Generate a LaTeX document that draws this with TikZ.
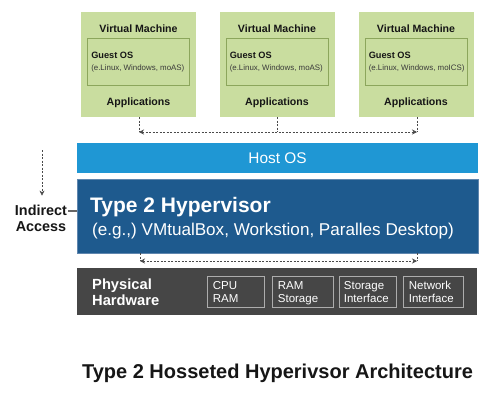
\documentclass[tikz,border=0pt]{standalone}
\usepackage{fontspec}
\setmainfont{Liberation Sans}
\usetikzlibrary{arrows.meta}
\definecolor{vmgreen}{HTML}{C9DD9F}
\definecolor{guestborder}{HTML}{8CA65C}
\definecolor{hostblue}{HTML}{1F97D4}
\definecolor{hypblue}{HTML}{1E5A8E}
\definecolor{hypedge}{HTML}{5F86AE}
\definecolor{hwgray}{HTML}{464646}
\definecolor{hwedge}{HTML}{ADADAD}
\definecolor{dashgray}{HTML}{4A4A4A}
\definecolor{inktext}{HTML}{161616}
\newcommand{\tlines}[2]{\begin{tabular}[t]{@{}#1@{}}#2\end{tabular}}
\begin{document}
\begin{tikzpicture}[x=1pt,y=-1pt,
  vmbox/.style={fill=vmgreen, draw=none, minimum width=115pt, minimum height=105pt, inner sep=0pt},
  guestbox/.style={draw=guestborder, line width=0.9pt, minimum width=102pt, minimum height=47pt, inner sep=0pt},
  vmtitle/.style={inner sep=0pt, text=inktext, font=\fontsize{10.6}{12}\selectfont\bfseries},
  guesttitle/.style={inner sep=0pt, text=inktext, font=\fontsize{9.2}{11}\selectfont\bfseries},
  guestsub/.style={inner sep=0pt, text=inktext!85, font=\fontsize{7.9}{9}\selectfont},
  dashline/.style={draw=dashgray, line width=0.6pt, dash pattern=on 2pt off 1.5pt},
  tip/.style={},
  dasharrow/.style={dashline, {Stealth[length=5pt,width=5pt]}-{Stealth[length=5pt,width=5pt]}},
  hostbox/.style={fill=hostblue, draw=none, minimum width=401pt, minimum height=30pt, inner sep=0pt, text=white, font=\fontsize{15.4}{17}\selectfont},
  hypbox/.style={fill=hypblue, draw=hypedge, line width=0.7pt, minimum width=401pt, minimum height=74pt, inner sep=0pt},
  hyptitle/.style={inner sep=0pt, text=white, font=\fontsize{21}{24}\selectfont\bfseries},
  hypsub/.style={inner sep=0pt, text=white, font=\fontsize{17.1}{20}\selectfont},
  hwbg/.style={fill=hwgray, draw=none, minimum width=400pt, minimum height=47pt, inner sep=0pt},
  hwtitle/.style={inner sep=0pt, text=white, font=\fontsize{14.7}{16}\selectfont\bfseries},
  hwbox/.style={draw=hwedge, line width=0.6pt, minimum height=31pt, inner sep=0pt},
  hwtxt/.style={inner sep=0pt, text=white, font=\fontsize{11.5}{13}\selectfont},
  indtxt/.style={inner sep=0pt, text=inktext, font=\fontsize{14.4}{16}\selectfont\bfseries},
  titletxt/.style={inner sep=0pt, text=inktext, font=\fontsize{20}{24}\selectfont\bfseries}
]
\useasboundingbox (0,0) rectangle (487,400);

% Virtual machines
\foreach \i/\x/\os in {1/138.5/moAS, 2/277/moAS, 3/416/moICS}{
  \node[vmbox] (vm\i) at (\x,64.5) {};
  \node[guestbox] (guest\i) at (\x,61.5) {};
  \node[vmtitle, anchor=base] (vmt\i) at (\x,32) {Virtual Machine};
  \node[guesttitle, anchor=base west] (gt\i) at ([xshift=4pt]guest\i.west |- 0,58) {Guest OS};
  \node[guestsub, anchor=base west] (gs\i) at ([xshift=4pt]guest\i.west |- 0,70) {(e.Linux, Windows, \os)};
  \node[vmtitle, anchor=base] (app\i) at (\x,105) {Applications};
}

% top dashed connector
\coordinate (t1) at (139,132);
\coordinate (t2) at (277,132);
\coordinate (t3) at (417,132);
\draw[dashline] (vm1.south -| t1) -- (t1);
\draw[dashline] (vm2.south -| t2) -- (t2);
\draw[dashline] (vm3.south -| t3) -- (t3);
\draw[dasharrow] (t1) -- (t3);

% Host OS
\node[hostbox] (host) at (277.5,158) {Host OS};

% Hypervisor
\node[hypbox] (hyp) at (277.5,216) {};
\node[hyptitle, anchor=base west] (hypt) at (90,212.5) {Type 2 Hypervisor};
\node[hypsub, anchor=base west] (hyps) at (92,235) {(e.g.,) VMtualBox, Workstion, Paralles Desktop)};

% Indirect access
\node[indtxt, anchor=base] (ind) at (41,215) {\tlines{c}{Indirect\\Access}};
\coordinate (indtop) at (42,150);
\draw[dashline, -{Stealth[length=5pt,width=5pt]}] (indtop) -- ([yshift=8pt]ind.north -| indtop);
\coordinate (lk) at (0,211);
\draw[draw=gray!80!black, line width=1.1pt] ([xshift=1pt]ind.east |- lk) -- (hyp.west |- lk);

% lower dashed connector
\coordinate (b1) at (140,261);
\coordinate (b2) at (417,261);
\draw[dashline] (hyp.south -| b1) -- (b1);
\draw[dashline] (hyp.south -| b2) -- (b2);
\draw[dasharrow] (b1) -- (b2);

% Physical hardware
\node[hwbg] (hw) at (277,291.5) {};
\node[hwtitle, anchor=base west] (hwt) at (92,289) {\tlines{l}{Physical\\Hardware}};
\node[hwbox, minimum width=57pt] (hw1) at (235.5,291.5) {};
\node[hwbox, minimum width=61pt] (hw2) at (302.5,291.5) {};
\node[hwbox, minimum width=57pt] (hw3) at (367.5,291.5) {};
\node[hwbox, minimum width=60pt] (hw4) at (433,291.5) {};
\node[hwtxt, anchor=base west] (hwt1) at ([xshift=6pt]hw1.west |- 0,289) {\tlines{l}{CPU\\RAM}};
\node[hwtxt, anchor=base west] (hwt2) at ([xshift=6pt]hw2.west |- 0,289) {\tlines{l}{RAM\\Storage}};
\node[hwtxt, anchor=base west] (hwt3) at ([xshift=5pt]hw3.west |- 0,289) {\tlines{l}{Storage\\Interface}};
\node[hwtxt, anchor=base west] (hwt4) at ([xshift=6pt]hw4.west |- 0,289) {\tlines{l}{Network\\Interface}};

% Title
\node[titletxt, anchor=base] (title) at (277.5,378) {Type 2 Hosseted Hyperivsor Architecture};
\end{tikzpicture}
\end{document}
